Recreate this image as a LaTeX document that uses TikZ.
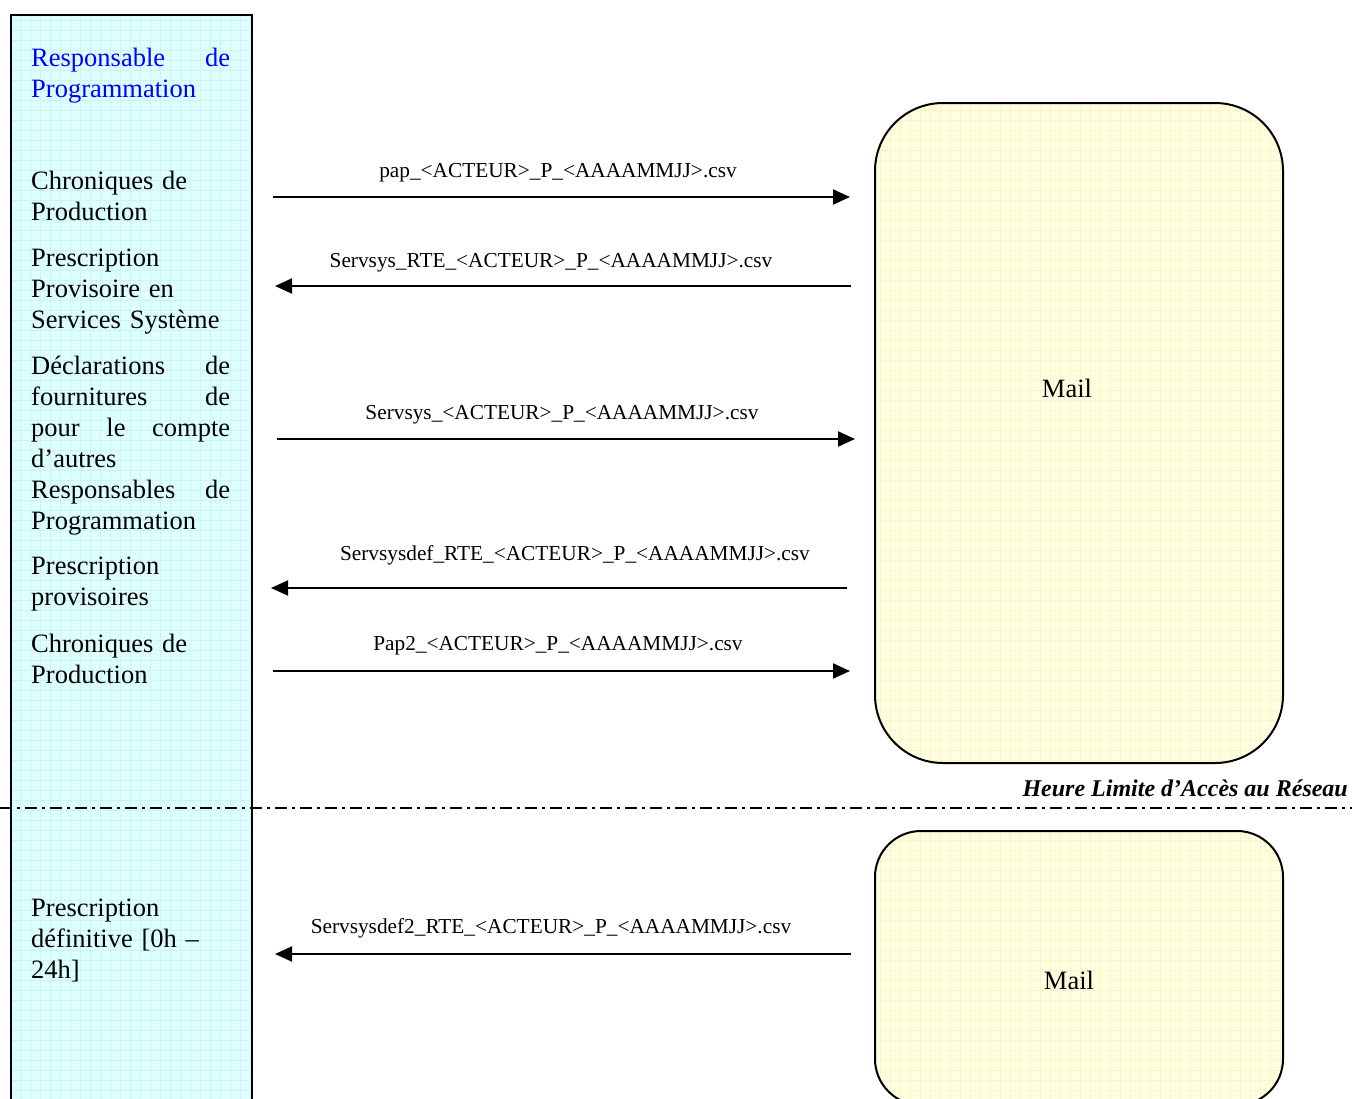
\documentclass[tikz,border=0pt]{standalone}
\usepackage{fontspec}
\setmainfont{Liberation Serif}
\usepackage{tikz}
\usetikzlibrary{arrows.meta,positioning}

\definecolor{paneCyan}{HTML}{DFFFFF}
\definecolor{gridCyan}{HTML}{C8F5F8}
\definecolor{mailYellow}{HTML}{FFFFE0}
\definecolor{gridYellow}{HTML}{F9F4CC}
\definecolor{rpBlue}{HTML}{0000FF}

\newcommand{\jline}[1]{\leavevmode\hbox to 199pt{#1}}

\tikzset{
  sidetext/.style={anchor=base west, inner sep=0pt, text width=199pt, align=left,
    font=\fontsize{26.5}{31}\selectfont},
  filename/.style={anchor=base, inner sep=0pt, font=\fontsize{21.3}{25}\selectfont},
  flow/.style={line width=2pt, -{Triangle[length=17pt,width=15pt]}},
  mailbox/.style={draw, line width=2pt, rounded corners=#1, inner sep=0pt},
  mailtext/.style={inner sep=0pt, font=\fontsize{26.5}{31}\selectfont}
}

\begin{document}
\begin{tikzpicture}[x=1pt, y=-1pt]
\useasboundingbox (0,0) rectangle (1352,1098);

% acteur column
\fill [paneCyan] (10,14) rectangle (251,1110);
\begin{scope}
\clip (10,14) rectangle (251,1110);
\draw [gridCyan, step=10pt] (10,14) grid (251,1110);
\end{scope}
\node [draw, line width=2pt, inner sep=0pt, minimum width=241pt, minimum height=1096pt,
  anchor=north west] (rp) at (10,14) {};

\node [sidetext, text=rpBlue] (rptitle) at (31,66) {\jline{Responsable\hfill de}\\Programmation};
\node [sidetext] (chron1) at (31,189) {Chroniques de\\Production};
\node [sidetext] (presc1) at (31,266) {Prescription\\Provisoire en\\Services Système};
\node [sidetext] (decl) at (31,374) {\jline{Déclarations\hfill de}\\\jline{fournitures\hfill de}\\\jline{pour\hfill le\hfill compte}\\d’autres\\\jline{Responsables\hfill de}\\Programmation};
\node [sidetext] (presc2) at (31,574) {Prescription\\provisoires};
\node [sidetext] (chron2) at (31,652) {Chroniques de\\Production};
\node [sidetext] (presc3) at (31,916) {Prescription\\définitive [0h –\\24h]};

% mail boxes
\begin{scope}
\clip [rounded corners=68pt] (874,102) rectangle (1282,762);
\fill [mailYellow] (874,102) rectangle (1282,762);
\draw [gridYellow, step=10pt] (874,102) grid (1282,762);
\end{scope}
\node [mailbox=68pt, minimum width=408pt, minimum height=660pt, anchor=north west] (mail1) at (874,102) {};
\node [mailtext] (mailtxt1) at (1067,388) {Mail};

\begin{scope}
\clip [rounded corners=46pt] (874,830) rectangle (1282,1104);
\fill [mailYellow] (874,830) rectangle (1282,1104);
\draw [gridYellow, step=10pt] (874,830) grid (1282,1104);
\end{scope}
\node [mailbox=46pt, minimum width=408pt, minimum height=274pt, anchor=north west] (mail2) at (874,830) {};
\node [mailtext] (mailtxt2) at (1069,980) {Mail};

% echanges
\coordinate (s1) at (273,197); \coordinate (e1) at (850,197);
\draw [flow] (s1) -- (e1);
\node [filename] (f1) at (558,177) {pap\_<ACTEUR>\_P\_<AAAAMMJJ>.csv};

\coordinate (s2) at (851,286); \coordinate (e2) at (275,286);
\draw [flow] (s2) -- (e2);
\node [filename] (f2) at (551,267) {Servsys\_RTE\_<ACTEUR>\_P\_<AAAAMMJJ>.csv};

\coordinate (s3) at (277,439); \coordinate (e3) at (855,439);
\draw [flow] (s3) -- (e3);
\node [filename] (f3) at (562,419) {Servsys\_<ACTEUR>\_P\_<AAAAMMJJ>.csv};

\coordinate (s4) at (847,588); \coordinate (e4) at (271,588);
\draw [flow] (s4) -- (e4);
\node [filename] (f4) at (575,560) {Servsysdef\_RTE\_<ACTEUR>\_P\_<AAAAMMJJ>.csv};

\coordinate (s5) at (273,671); \coordinate (e5) at (850,671);
\draw [flow] (s5) -- (e5);
\node [filename] (f5) at (558,650) {Pap2\_<ACTEUR>\_P\_<AAAAMMJJ>.csv};

\coordinate (s6) at (851,954); \coordinate (e6) at (275,954);
\draw [flow] (s6) -- (e6);
\node [filename] (f6) at (551,933) {Servsysdef2\_RTE\_<ACTEUR>\_P\_<AAAAMMJJ>.csv};

% heure limite
\coordinate (hlL) at (0,808); \coordinate (hlR) at (1352,808);
\draw [line width=1.3pt, dash pattern=on 12pt off 5pt on 3pt off 5pt] (hlL) -- (hlR);
\node [anchor=base east, inner sep=0pt, font=\fontsize{24}{28}\selectfont\bfseries\itshape] (hl) at (1348,796) {Heure Limite d’Accès au Réseau};
\end{tikzpicture}
\end{document}
